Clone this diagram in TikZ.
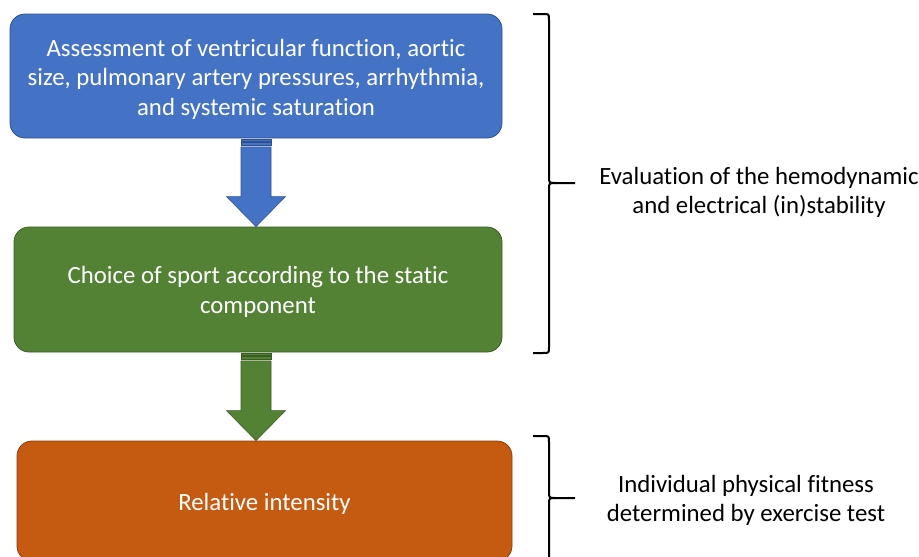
\documentclass[tikz,border=0pt]{standalone}
\usepackage{fontspec}
\setmainfont{Carlito}[Ligatures=NoCommon]
\usetikzlibrary{calc}
\definecolor{cblue}{HTML}{4472C4}
\definecolor{cblueD}{HTML}{2F528F}
\definecolor{cgreen}{HTML}{548235}
\definecolor{cgreenD}{HTML}{3A5C24}
\definecolor{corange}{HTML}{C55A11}
\definecolor{corangeD}{HTML}{8A3F0C}
\tikzset{
  box/.style={rounded corners=15pt, line width=0.8pt, text=white, align=center,
    font=\fontsize{24.8}{29.5}\selectfont, inner sep=0pt},
  sidetext/.style={align=center, font=\fontsize{24.8}{29}\selectfont, text=black},
  bracepath/.style={line width=2pt, black},
}
\begin{document}
\begin{tikzpicture}[x=1pt,y=-1pt]
\useasboundingbox (0,0) rectangle (919,557);
\clip (0,0) rectangle (919,557);
% boxes
\node[box, draw=cblueD, fill=cblue, minimum width=492pt, minimum height=124pt] (b1) at (256,76) {};
\node[box] (l1) at (256,79) {Assessment of ventricular function, aortic\\size, pulmonary artery pressures, arrhythmia,\\and systemic saturation};
\node[box, draw=cgreenD, fill=cgreen, minimum width=488pt, minimum height=125pt] (b2) at (258,289.5) {};
\node[box] (l2) at (258,292) {Choice of sport according to the static\\component};
\node[box, draw=corangeD, fill=corange, minimum width=495pt, minimum height=120pt] (b3) at (264.5,501) {};
\node[box] (l3) at (264.5,503.5) {Relative intensity};
% block arrows
\foreach \src/\dst/\fc/\dc in {b1/b2/cblue/cblueD, b2/b3/cgreen/cgreenD}{
  \coordinate (s) at (\src.south -| 256,0);
  \coordinate (t) at (\dst.north -| 256,0);
  \filldraw[fill=\fc, draw=\dc, line width=0.6pt] ($(s)+(-15,0.5)$) rectangle ($(s)+(15,3)$);
  \filldraw[fill=\fc, draw=\dc, line width=0.6pt] ($(s)+(-15,4)$) rectangle ($(s)+(15,7.3)$);
  \filldraw[fill=\fc, draw=\dc, line width=0.6pt]
    ($(s)+(-15,8.5)$) -- ($(s)+(15,8.5)$) -- ($(t)+(15,-30)$) -- ($(t)+(29.5,-30)$)
    -- (t) -- ($(t)+(-29.5,-30)$) -- ($(t)+(-15,-30)$) -- cycle;
}
% braces
\coordinate (br1top) at (533,14);
\coordinate (br1mid) at (575,183);
\coordinate (br1bot) at (533,353);
\draw[bracepath] (br1top) -- (543,14) .. controls (549,14) .. (549,20) -- (549,177)
  .. controls (549,183) .. (556,183) -- (br1mid);
\draw[bracepath] (556,183) .. controls (549,183) .. (549,189) -- (549,347)
  .. controls (549,353) .. (543,353) -- (br1bot);
\coordinate (br2top) at (533,436);
\coordinate (br2mid) at (575,498);
\draw[bracepath] (br2top) -- (543,436) .. controls (549,436) .. (549,442) -- (549,492)
  .. controls (549,498) .. (556,498) -- (br2mid);
\draw[bracepath] (556,498) .. controls (549,498) .. (549,504) -- (549,570);
% side texts
\node[sidetext] (t1) at (759,192.5) {Evaluation of the hemodynamic\\and electrical (in)stability};
\node[sidetext] (t2) at (746,500) {Individual physical fitness\\determined by exercise test};
\end{tikzpicture}
\end{document}
